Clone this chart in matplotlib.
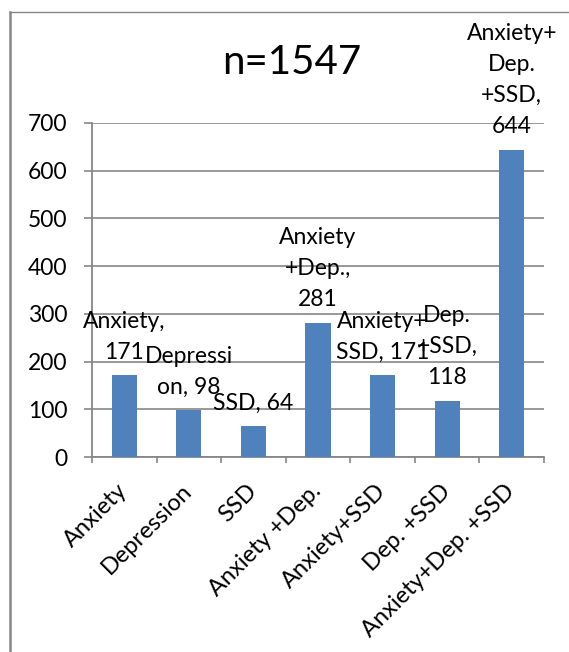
import numpy as np
import matplotlib

matplotlib.use('Agg')
import matplotlib.pyplot as plt
from matplotlib.lines import Line2D

# chart data
categories = ['Anxiety', 'Depression', 'SSD', 'Anxiety +Dep.', 'Anxiety+SSD',
              'Dep. +SSD', 'Anxiety+Dep. +SSD']
counts = [171, 98, 64, 281, 171, 118, 644]
# data labels as wrapped in the original
point_labels = ['Anxiety,\n171', 'Depressi\non, 98', 'SSD, 64',
                'Anxiety\n+Dep.,\n281', 'Anxiety+\nSSD, 171',
                'Dep.\n+SSD,\n118', 'Anxiety+\nDep.\n+SSD,\n644']
title = 'n=1547'
y_ticks = [0, 100, 200, 300, 400, 500, 600, 700]

plt.rcParams['font.family'] = ['Lato', 'DejaVu Sans']

W, H = 569, 652
fig = plt.figure(figsize=(W / 100, H / 100), dpi=100)
ax = fig.add_axes([92 / W, 1 - 457 / H, (544 - 92) / W, (457 - 123) / H])

grey = '#868686'
bar_blue = '#4F81BD'

x = np.arange(len(categories))
bars = ax.bar(x, counts, width=0.39, color=bar_blue, zorder=3)

ax.set_xlim(-0.5, len(categories) - 0.5)
ax.set_ylim(0, 700)
ax.set_yticks(y_ticks)
ax.yaxis.grid(True, color=grey, linewidth=1.2, zorder=0)

for side in ('top', 'right'):
    ax.spines[side].set_visible(False)
for side in ('left', 'bottom'):
    ax.spines[side].set_color(grey)
    ax.spines[side].set_linewidth(1.3)

ax.tick_params(axis='y', length=5.8, width=1.2, color=grey, pad=12,
               labelsize=16.5)
ax.set_xticks(x)
ax.set_xticklabels(categories, rotation=45, ha='right', va='center',
                   rotation_mode='anchor', fontsize=17)
ax.tick_params(axis='x', which='major', length=0, pad=22)
ax.set_xticks(np.arange(len(categories) + 1) - 0.5, minor=True)
ax.tick_params(axis='x', which='minor', length=4.5, width=1.2, color=grey)

for xi, val, lab in zip(x, counts, point_labels):
    ax.annotate(lab, (xi, val), xytext=(0, 9), textcoords='offset points',
                ha='center', va='bottom', fontsize=16.5, linespacing=1.6,
                multialignment='center', zorder=5, annotation_clip=False)

fig.text(292 / W, 1 - 62 / H, title, ha='center', va='center', fontsize=29)

# chart area border (cropped on the right and bottom)
fig.add_artist(Line2D([10 / W, 10 / W], [0, 1 - 12 / H], color=grey,
                      linewidth=1.8, transform=fig.transFigure))
fig.add_artist(Line2D([10 / W, 1], [1 - 12 / H, 1 - 12 / H], color=grey,
                      linewidth=1.0, transform=fig.transFigure))

fig.savefig('out.png', dpi=100)
plt.close(fig)
